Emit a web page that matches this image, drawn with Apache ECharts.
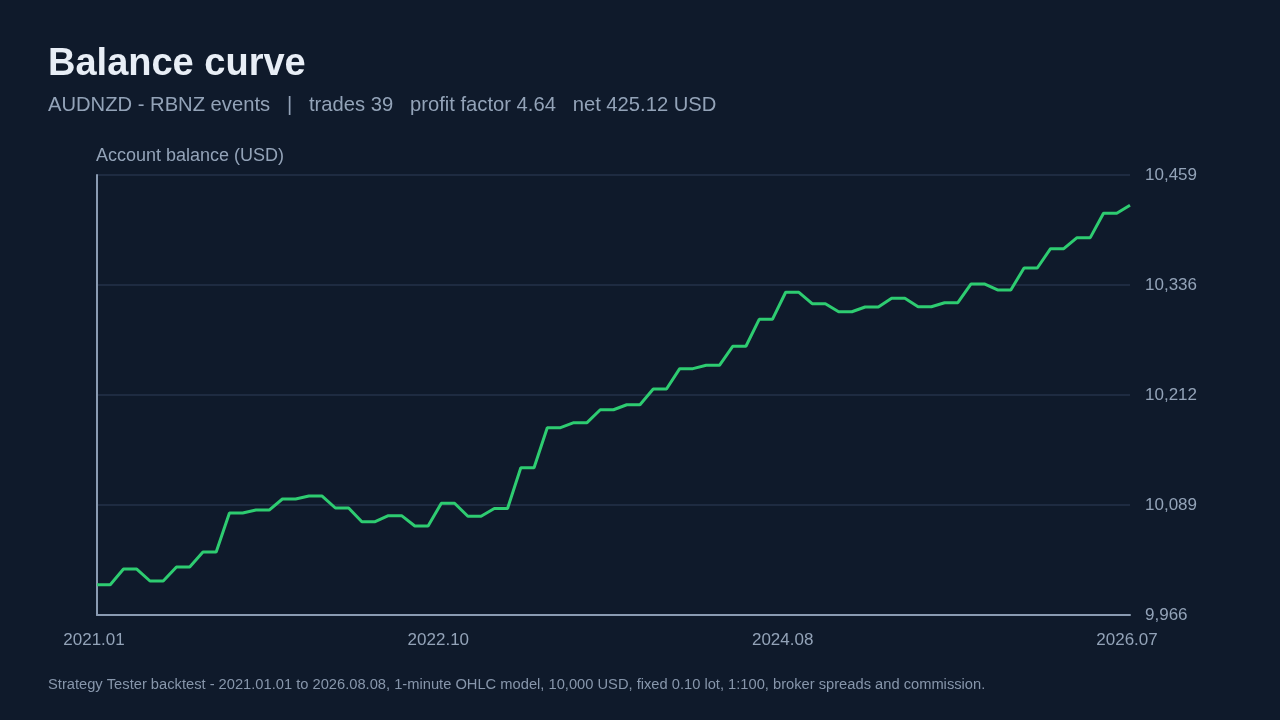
<!DOCTYPE html>
<html>
<head>
<meta charset="utf-8">
<title>Balance curve</title>
<script src="https://cdn.jsdelivr.net/npm/echarts@6/dist/echarts.min.js"></script>
<style>
  html, body { margin: 0; padding: 0; background: #0f1a2b; }
  #chart { width: 1280px; height: 720px; }
</style>
</head>
<body>
<div id="chart"></div>
<script>
// balance after each step (hold point, then trade close)
var balance = [
  10000, 10000, 10017.5, 10017.5, 10004.1, 10004.1, 10019.8, 10019.8,
  10036.6, 10036.6, 10080.3, 10080.3, 10083.6, 10083.6, 10096.0, 10096.0,
  10099.3, 10099.3, 10085.9, 10085.9, 10070.5, 10070.5, 10077.3, 10077.3,
  10065.7, 10065.7, 10091.2, 10091.2, 10076.6, 10076.6, 10085.3, 10085.3,
  10131.0, 10131.0, 10175.9, 10175.9, 10181.5, 10181.5, 10196.0, 10196.0,
  10201.6, 10201.6, 10219.2, 10219.2, 10242.0, 10242.0, 10245.8, 10245.8,
  10267.1, 10267.1, 10297.3, 10297.3, 10327.6, 10327.6, 10314.8, 10314.8,
  10305.8, 10305.8, 10311.1, 10311.1, 10320.9, 10320.9, 10311.4, 10311.4,
  10315.9, 10315.9, 10336.9, 10336.9, 10330.2, 10330.2, 10354.8, 10354.8,
  10376.4, 10376.4, 10388.8, 10388.8, 10416.1, 10416.1, 10425.12
];
var xTickLabels = ['2021.01', '2022.10', '2024.08', '2026.07'];
var yTickLabels = ['9,966', '10,089', '10,212', '10,336', '10,459'];
var yMin = 9966, yMax = 10459;

var titleText = 'Balance curve';
var subText = 'AUDNZD - RBNZ events   |   trades 39   profit factor 4.64   net 425.12 USD';
var footText = 'Strategy Tester backtest - 2021.01.01 to 2026.08.08, 1-minute OHLC model, 10,000 USD, fixed 0.10 lot, 1:100, broker spreads and commission.';

var font = '"Liberation Sans", Arial, sans-serif';
var lastIdx = balance.length - 1;
var xStep = lastIdx / (xTickLabels.length - 1);
var yStep = (yMax - yMin) / (yTickLabels.length - 1);

var myChart = echarts.init(document.getElementById('chart'));

var option = {
  backgroundColor: '#0f1a2b',
  textStyle: { fontFamily: font },
  title: [
    { text: titleText, left: 43, top: 41,
      textStyle: { color: '#e8eef6', fontSize: 38, fontWeight: 'bold', fontFamily: font } },
    { text: subText, left: 43, top: 90,
      textStyle: { color: '#93a3b8', fontSize: 20.2, fontWeight: 'normal', fontFamily: font } },
    { text: footText, left: 43, top: 672,
      textStyle: { color: '#8796ab', fontSize: 14.7, fontWeight: 'normal', fontFamily: font } }
  ],
  grid: { left: 97, right: 150, top: 175, bottom: 105 },
  xAxis: {
    type: 'value',
    min: 0,
    max: lastIdx,
    interval: xStep,
    axisLine: { show: true, lineStyle: { color: '#8a9bb2', width: 2 } },
    axisTick: { show: false },
    splitLine: { show: false },
    axisLabel: {
      color: '#93a3b8', fontSize: 17, margin: 17, fontFamily: font,
      padding: [0, 6, 0, 0],
      formatter: function (v) { return xTickLabels[Math.round(v / xStep)]; }
    }
  },
  yAxis: [
    {
      // left axis: line and name only
      type: 'value', position: 'left', min: yMin, max: yMax, interval: yStep,
      name: 'Account balance (USD)',
      nameLocation: 'end',
      nameGap: 10,
      nameTextStyle: { color: '#93a3b8', fontSize: 18, align: 'left', verticalAlign: 'bottom',
        padding: [0, 0, 0, -1], fontFamily: font },
      axisLine: { show: true, lineStyle: { color: '#8a9bb2', width: 2 } },
      axisTick: { show: false },
      axisLabel: { show: false },
      splitLine: { show: false }
    },
    {
      // right axis: tick labels and grid lines
      type: 'value', position: 'right', min: yMin, max: yMax, interval: yStep,
      axisLine: { show: false },
      axisTick: { show: false },
      axisLabel: {
        color: '#93a3b8', fontSize: 17, margin: 15, fontFamily: font,
        formatter: function (v) { return yTickLabels[Math.round((v - yMin) / yStep)]; }
      },
      splitLine: { show: true, lineStyle: { color: '#24324a', width: 1.5 } }
    }
  ],
  series: [
    {
      type: 'line',
      yAxisIndex: 1,
      data: balance.map(function (v, i) { return [i, v]; }),
      showSymbol: false,
      symbol: 'none',
      lineStyle: { color: '#2ecc71', width: 3 },
      animation: false
    }
  ]
};

option && myChart.setOption(option);
</script>
</body>
</html>
